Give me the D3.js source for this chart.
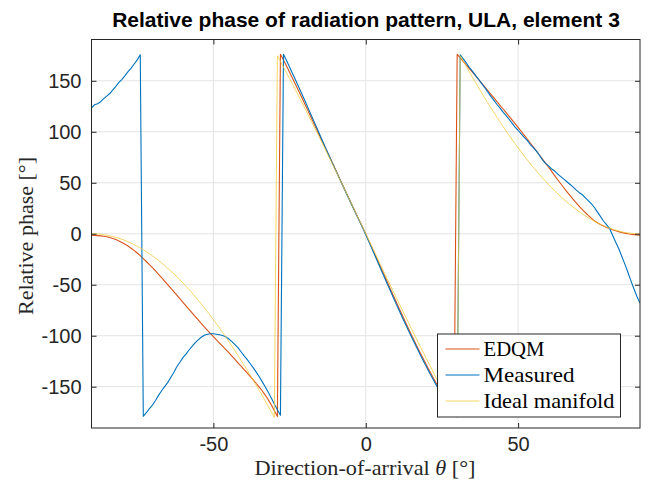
<!DOCTYPE html>
<html>
<head>
<meta charset="utf-8">
<script src="https://cdn.jsdelivr.net/npm/d3@7"></script>
<style>
  html, body { margin: 0; padding: 0; background: #fff; }
  svg { display: block; }
  .tick text { font-family: "Liberation Sans", Arial, sans-serif; font-size: 20px; fill: #262626; }
</style>
</head>
<body>
<svg id="chart" width="648" height="482"></svg>
<script>
// Direction-of-arrival grid, 1 degree steps
const thetaDeg = d3.range(-90, 91, 1);

// EDQM model phase [deg]
const edqmPhase = [
  -1.5, -1.6, -1.8, -2.1, -2.5, -3.0, -3.7, -4.6, -5.7, -7.0,
  -8.5, -10.2, -12.1, -14.2, -16.5, -18.9, -21.5, -24.3, -27.2, -30.2,
  -33.3, -36.5, -39.8, -43.1, -46.5, -49.9, -53.3, -56.7, -60.2, -63.7,
  -67.2, -70.7, -74.2, -77.7, -81.1, -84.5, -87.9, -91.3, -94.5, -97.8,
  -101.0, -104.1, -107.2, -110.3, -113.4, -116.4, -119.7, -123.0, -126.3, -129.6,
  -133.0, -136.3, -139.7, -143.1, -146.6, -150.2, -154.0, -158.2, -162.8, -167.8,
  -173.3, -179.2,
  176.0, 170.3, 164.4, 158.4, 152.3, 146.1, 139.9, 133.6, 127.3, 121.0,
  114.6, 108.2, 101.8, 95.4, 89.0, 82.6, 76.2, 69.8, 63.4, 57.0,
  50.6, 44.2, 37.8, 31.4, 25.0, 18.6, 12.3, 6.1,
  -0.3, -6.9, -13.5, -20.1, -26.8, -33.5, -40.2, -46.9, -53.6, -60.3,
  -66.9, -73.5, -80.0, -86.5, -92.9, -99.2, -105.4, -111.5, -117.5, -123.4,
  -129.2, -134.9, -140.5, -146.0, -151.3, -156.5, -161.6, -166.6, -171.5, -176.3,
  176.0, 172.5, 169.0, 165.5, 162.0, 158.5, 155.0, 151.4, 147.8, 144.2,
  140.6, 137.0, 133.4, 129.8, 126.2, 122.6, 119.0, 115.4, 111.7, 108.0,
  104.3, 100.5, 96.7, 92.9, 89.0, 85.1, 81.2, 77.2, 73.2, 69.2,
  65.2, 61.1, 57.0, 53.0, 49.0, 45.1, 41.3, 37.6, 34.0, 30.5,
  27.1, 23.9, 20.9, 18.0, 15.3, 12.9, 10.8, 9.0, 7.5, 6.2,
  5.1, 4.0, 3.0, 2.1, 1.3, 0.6, 0.0, -0.5, -0.9, -1.2, -1.4
];

// Measured phase [deg]
const measuredPhase = [
  123.5, 126.5, 127.5, 129.5, 132.5, 135.0, 137.5, 141.0, 144.5, 148.5,
  151.5, 155.0, 159.0, 162.5, 166.5, 170.5, 175.5, -179.0, -175.5, -171.5,
  -168.0, -163.5, -158.5, -154.0, -150.0, -146.0, -141.0, -136.0, -130.5, -126.0,
  -121.5, -118.0, -114.0, -110.5, -107.0, -104.0, -101.5, -99.5, -98.5, -98.0,
  -98.0, -98.5, -99.0, -99.8, -101.0, -103.0, -105.5, -108.5, -111.5, -115.5,
  -119.5, -123.0, -127.0, -131.0, -135.5, -140.0, -145.0, -150.0, -155.5, -161.0,
  -167.0, -172.5, -178.0,
  176.0, 169.8, 163.5, 157.0, 150.5, 144.0, 137.3, 130.6, 123.9,
  117.0, 110.2, 103.5, 96.6, 89.8, 83.0, 76.3, 69.5, 63.0, 56.5,
  50.0, 43.6, 37.3, 30.9, 24.6, 18.3, 12.0, 5.6,
  -1.0, -7.7, -14.5, -21.3, -28.2, -35.0, -41.9, -48.7, -55.5, -62.3,
  -69.0, -75.6, -82.1, -88.5, -94.8, -101.1, -107.2, -113.3, -119.3, -125.2,
  -131.0, -136.7, -142.3, -147.8, -153.2, -158.5, -163.7, -168.8, -173.0, -175.5,
  -179.5, 175.5, 171.5, 167.5, 163.2, 159.5, 155.3, 151.5, 147.5, 143.5,
  139.2, 135.0, 131.0, 127.0, 123.5, 119.5, 116.0, 112.5, 108.5, 104.5,
  101.5, 98.0, 94.5, 91.5, 87.5, 84.5, 81.0, 77.0, 72.5, 69.0,
  66.5, 63.5, 61.5, 58.5, 56.0, 53.5, 51.0, 48.5, 46.0, 43.0,
  40.5, 38.5, 35.5, 32.5, 29.5, 26.0, 21.5, 17.0, 12.5, 9.0,
  5.3, -1.5, -8.0, -14.5, -22.0, -29.5, -37.5, -46.0, -54.0, -61.5, -68.0
];

// Ideal array manifold phase [deg]
const idealPhase = [
  0.00, -0.05, -0.22, -0.49, -0.88, -1.37, -1.97, -2.68, -3.50, -4.43,
  -5.47, -6.61, -7.87, -9.23, -10.69, -12.27, -13.95, -15.73, -17.62, -19.61,
  -21.71, -23.91, -26.21, -28.62, -31.12, -33.73, -36.43, -39.24, -42.14, -45.14,
  -48.23, -51.42, -54.70, -58.08, -61.55, -65.11, -68.75, -72.49, -76.32, -80.23,
  -84.22, -88.30, -92.47, -96.71, -101.04, -105.44, -109.92, -114.48, -119.11, -123.82,
  -128.60, -133.44, -138.36, -143.35, -148.40, -153.51, -158.69, -163.93, -169.23, -174.59,
  -180.00, 174.53, 169.01, 163.44, 157.81, 152.14, 146.43, 140.66, 134.86, 129.01,
  123.13, 117.20, 111.25, 105.25, 99.23, 93.17, 87.09, 80.98, 74.85, 68.69,
  62.51, 56.32, 50.10, 43.87, 37.63, 31.38, 25.11, 18.84, 12.56, 6.28,
  0.00,
  -6.28, -12.56, -18.84, -25.11, -31.38, -37.63, -43.87, -50.10, -56.32, -62.51,
  -68.69, -74.85, -80.98, -87.09, -93.17, -99.23, -105.25, -111.25, -117.20, -123.13,
  -129.01, -134.86, -140.66, -146.43, -152.14, -157.81, -163.44, -169.01, -174.53, -180.00,
  174.59, 169.23, 163.93, 158.69, 153.51, 148.40, 143.35, 138.36, 133.44, 128.60,
  123.82, 119.11, 114.48, 109.92, 105.44, 101.04, 96.71, 92.47, 88.30, 84.22,
  80.23, 76.32, 72.49, 68.75, 65.11, 61.55, 58.08, 54.70, 51.42, 48.23,
  45.14, 42.14, 39.24, 36.43, 33.73, 31.12, 28.62, 26.21, 23.91, 21.71,
  19.61, 17.62, 15.73, 13.95, 12.27, 10.69, 9.23, 7.87, 6.61, 5.47,
  4.43, 3.50, 2.68, 1.97, 1.37, 0.88, 0.49, 0.22, 0.05, 0.00
];

const xTicks = [-50, 0, 50];
const yTicks = [-150, -100, -50, 0, 50, 100, 150];

const seriesNames = ["EDQM", "Measured", "Ideal manifold"];
const seriesColors = ["#D95319", "#0072BD", "#F3CB3C"];
const seriesWidths = [1.1, 1.1, 0.8];
const seriesValues = [edqmPhase, measuredPhase, idealPhase];

const svg = d3.select("#chart");
const plot = { left: 91.5, right: 640, top: 39.5, bottom: 428 };

const x = d3.scaleLinear().domain([-90, 90]).range([plot.left, plot.right]);
const y = d3.scaleLinear().domain([-190.5, 190.5]).range([plot.bottom, plot.top]);

const axisColor = "#262626";
const gridColor = "#e3e3e3";

// grid
const grid = svg.append("g");
grid.selectAll("line.gx").data(xTicks).enter().append("line")
  .attr("x1", d => x(d)).attr("x2", d => x(d))
  .attr("y1", plot.top).attr("y2", plot.bottom)
  .attr("stroke", gridColor).attr("stroke-width", 1);
grid.selectAll("line.gy").data(yTicks).enter().append("line")
  .attr("x1", plot.left).attr("x2", plot.right)
  .attr("y1", d => y(d)).attr("y2", d => y(d))
  .attr("stroke", gridColor).attr("stroke-width", 1);

// series
svg.append("defs").append("clipPath").attr("id", "plotClip")
  .append("rect").attr("x", plot.left).attr("y", plot.top)
  .attr("width", plot.right - plot.left).attr("height", plot.bottom - plot.top);

const line = d3.line().x((d, i) => x(thetaDeg[i])).y(d => y(d));
const lines = svg.append("g").attr("clip-path", "url(#plotClip)");
seriesValues.forEach((vals, k) => {
  lines.append("path")
    .attr("d", line(vals))
    .attr("fill", "none")
    .attr("stroke", seriesColors[k])
    .attr("stroke-width", seriesWidths[k])
    .attr("stroke-linejoin", "round");
});

// axes with inward ticks on all four sides
const tickLen = 5;
const fmt = d => d < 0 ? "-" + Math.abs(d) : String(d);
const xAxis = svg.append("g").attr("transform", `translate(0,${plot.bottom})`)
  .call(d3.axisBottom(x).tickValues(xTicks).tickFormat(fmt).tickSize(-tickLen).tickPadding(9));
const yAxis = svg.append("g").attr("transform", `translate(${plot.left},0)`)
  .call(d3.axisLeft(y).tickValues(yTicks).tickFormat(fmt).tickSize(-tickLen).tickPadding(10));
const xAxisTop = svg.append("g").attr("transform", `translate(0,${plot.top})`)
  .call(d3.axisTop(x).tickValues(xTicks).tickFormat("").tickSize(-tickLen));
const yAxisRight = svg.append("g").attr("transform", `translate(${plot.right},0)`)
  .call(d3.axisRight(y).tickValues(yTicks).tickFormat("").tickSize(-tickLen));
[xAxis, yAxis, xAxisTop, yAxisRight].forEach(g => {
  g.select(".domain").remove();
  g.selectAll(".tick line").attr("stroke", axisColor).attr("stroke-width", 1);
});

svg.append("rect")
  .attr("x", plot.left).attr("y", plot.top)
  .attr("width", plot.right - plot.left).attr("height", plot.bottom - plot.top)
  .attr("fill", "none").attr("stroke", axisColor).attr("stroke-width", 1);

// title
svg.append("text")
  .attr("x", 366).attr("y", 27)
  .attr("text-anchor", "middle")
  .attr("font-family", "Liberation Sans, Arial, sans-serif")
  .attr("font-weight", "bold").attr("font-size", 21).attr("fill", "#000")
  .text("Relative phase of radiation pattern, ULA, element 3");

// axis labels
const serif = "Liberation Serif, 'Times New Roman', serif";
svg.append("text")
  .attr("x", 365).attr("y", 475)
  .attr("text-anchor", "middle")
  .attr("font-family", serif).attr("font-size", 21).attr("fill", axisColor)
  .attr("textLength", 221).attr("lengthAdjust", "spacingAndGlyphs")
  .html('Direction-of-arrival <tspan font-style="italic">θ</tspan> [°]');

svg.append("text")
  .attr("transform", "translate(33,236) rotate(-90)")
  .attr("text-anchor", "middle")
  .attr("font-family", serif).attr("font-size", 21).attr("fill", axisColor)
  .attr("textLength", 158).attr("lengthAdjust", "spacingAndGlyphs")
  .text("Relative phase [°]");

// legend
const lg = { x: 437.5, y: 334, w: 183, h: 83 };
const legendWidths = [61, 91, 131];
const legend = svg.append("g");
legend.append("rect")
  .attr("x", lg.x).attr("y", lg.y).attr("width", lg.w).attr("height", lg.h)
  .attr("fill", "#fff").attr("stroke", axisColor).attr("stroke-width", 1);
seriesNames.forEach((name, k) => {
  const ry = lg.y + 15 + k * 26;
  legend.append("line")
    .attr("x1", lg.x + 8).attr("x2", lg.x + 42)
    .attr("y1", ry).attr("y2", ry)
    .attr("stroke", seriesColors[k]).attr("stroke-width", seriesWidths[k]);
  legend.append("text")
    .attr("x", lg.x + 46).attr("y", ry + 7)
    .attr("font-family", serif).attr("font-size", 21).attr("fill", "#000")
    .attr("textLength", legendWidths[k]).attr("lengthAdjust", "spacingAndGlyphs")
    .text(name);
});
</script>
</body>
</html>
